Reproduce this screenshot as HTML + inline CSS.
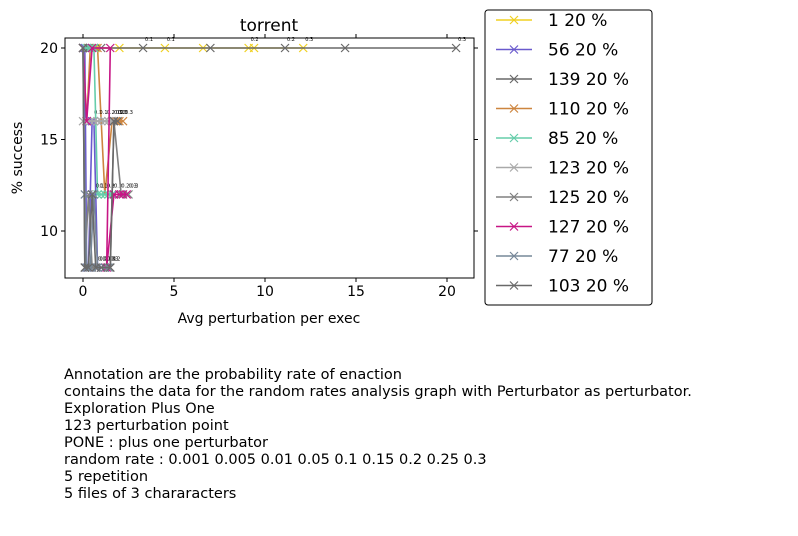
<!DOCTYPE html>
<html><head><meta charset="utf-8"><style>
body{margin:0;background:#fff;width:798px;height:531px;overflow:hidden;font-family:"Liberation Sans","DejaVu Sans",sans-serif}
</style></head><body>
<svg id="c" width="798" height="531" xmlns="http://www.w3.org/2000/svg" font-family="DejaVu Sans, Liberation Sans, sans-serif"></svg>
<script>
const seriesNames=["1 20 %","56 20 %","139 20 %","110 20 %","85 20 %","123 20 %","125 20 %","127 20 %","77 20 %","103 20 %"];
const seriesColors=["#f0d020","#6a5acd","#696969","#cd853f","#66cdaa","#a9a9a9","#808080","#c71585","#778899","#696969"];
const rateLabels=["0.001","0.005","0.01","0.05","0.1","0.15","0.2","0.25","0.3"];
const xs1=[0,0.3,0.7,2.0,4.5,6.6,9.1,9.4,12.1];const ys1=[20,20,20,20,20,20,20,20,20];
const xs56=[0,0.1,0.2,0.3,0.5,0.6,0.8,1.0,1.2];const ys56=[20,20,8,8,16,16,8,8,8];
const xs139=[0,0.3,0.6,1.0,3.3,7.0,11.1,14.4,20.5];const ys139=[20,20,20,20,20,20,20,20,20];
const xs110=[0,0.2,0.4,0.8,1.2,1.6,1.8,2.0,2.2];const ys110=[20,16,20,20,12,16,16,16,16];
const xs85=[0,0.2,0.4,0.6,0.8,1.0,1.2,1.4,1.6];const ys85=[20,20,20,20,12,12,12,12,12];
const xs123=[0,0.2,0.4,0.6,0.8,1.0,1.2,1.4,1.6];const ys123=[16,16,16,16,16,16,16,16,16];
const xs125=[0,0.1,0.3,0.5,0.8,1.5,1.7,2.1,2.5];const ys125=[20,8,12,8,8,8,16,12,12];
const xs127=[0,0.2,0.5,1.5,1.3,1.7,2.0,2.2,2.4];const ys127=[20,16,20,20,8,12,12,12,12];
const xs77=[0,0.1,0.2,0.4,0.6,0.8,1.0,1.2,1.4];const ys77=[20,12,8,8,12,8,8,8,8];
const xs103=[0,0.1,0.3,0.5,0.7,1.0,1.5,1.7,1.9];const ys103=[20,8,8,12,8,8,8,16,16];
const allX=[xs1,xs56,xs139,xs110,xs85,xs123,xs125,xs127,xs77,xs103];
const allY=[ys1,ys56,ys139,ys110,ys85,ys123,ys125,ys127,ys77,ys103];
const xTicks=[0,5,10,15,20];const yTicks=[10,15,20];
const L=65,R=474,T=38,B=278;
const X=v=>83+v*18.2;const Y=v=>48+(20-v)*18.3;
const svg=document.getElementById('c');const NS="http://www.w3.org/2000/svg";
function el(t,a,p){const e=document.createElementNS(NS,t);for(const k in a)e.setAttribute(k,a[k]);(p||svg).appendChild(e);return e;}
function txt(s,a,p){const e=el('text',a,p);e.textContent=s;return e;}
const plot=el('g',{});
allX.forEach((xa,i)=>{
 const g=el('g',{},plot);
 
 
 el('polyline',{points:xa.map((x,j)=>X(x)+','+Y(allY[i][j])).join(' '),fill:'none',stroke:seriesColors[i],'stroke-width':1.6},g);
 xa.forEach((x,j)=>{const cx=X(x),cy=Y(allY[i][j]);
  el('path',{d:`M${cx-4},${cy-4}L${cx+4},${cy+4}M${cx-4},${cy+4}L${cx+4},${cy-4}`,stroke:seriesColors[i],'stroke-width':1.2},g);
  if(j>=4&&j%2==0)txt(rateLabels[j],{x:cx+2,y:cy-7,'font-size':5,fill:'#000'},g);
 });
});
el('rect',{x:L,y:T,width:R-L,height:B-T,fill:'none',stroke:'#000','stroke-width':1});
const xa=el('g',{});
xTicks.forEach(t=>{el('line',{x1:X(t),x2:X(t),y1:B,y2:B+4,stroke:'#000'},xa);el('line',{x1:X(t),x2:X(t),y1:T,y2:T-4,stroke:'#000'},xa);
 txt(t,{x:X(t),y:B+18,'font-size':14,'text-anchor':'middle'},xa);});
const ya=el('g',{});
yTicks.forEach(t=>{el('line',{x1:L,x2:L-4,y1:Y(t),y2:Y(t),stroke:'#000'},ya);el('line',{x1:R,x2:R+4,y1:Y(t),y2:Y(t),stroke:'#000'},ya);
 txt(t,{x:L-7,y:Y(t)+5,'font-size':14,'text-anchor':'end'},ya);});
const xt=txt('Avg perturbation per exec',{x:269,y:323,'font-size':14,'text-anchor':'middle'});

const yt=txt('% success',{x:0,y:0,'font-size':14,'text-anchor':'middle',transform:'translate(22,158) rotate(-90)'});

const ti=txt('torrent',{x:269,y:31,'font-size':17,'text-anchor':'middle'});

const lg=el('g',{});
el('rect',{x:485,y:10,width:167,height:295,rx:3,fill:'#fff',stroke:'#000'},lg);
seriesNames.forEach((n,i)=>{const y=20+i*29.5;const g=el('g',{},lg);
 
 el('line',{x1:496,x2:532,y1:y,y2:y,stroke:seriesColors[i],'stroke-width':1.6},g);
 el('path',{d:`M510,${y-4}L518,${y+4}M510,${y+4}L518,${y-4}`,stroke:seriesColors[i],'stroke-width':1.2},g);
 txt(n,{x:548,y:y+6,'font-size':17},g);});
const notes=["Annotation are the probability rate of enaction","contains the data for the random rates analysis graph with Perturbator as perturbator.","Exploration Plus One","123 perturbation point","PONE : plus one perturbator","random rate : 0.001 0.005 0.01 0.05 0.1 0.15 0.2 0.25 0.3","5 repetition","5 files of 3 chararacters"];
const ng=el('g',{});
notes.forEach((s,i)=>txt(s,{x:64,y:379+i*17,'font-size':14.5},ng));
</script>
</body></html>
